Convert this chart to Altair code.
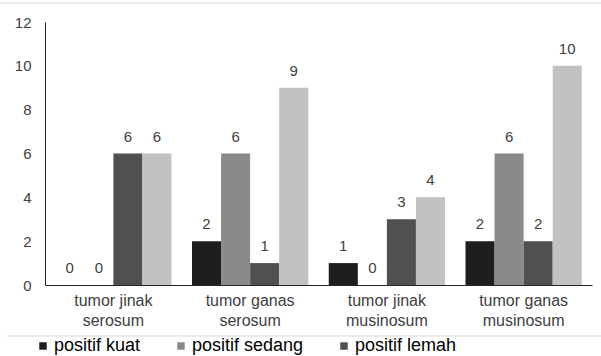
import altair as alt
import pandas as pd

# Categories and the four response groups
categories = [
    "tumor jinak serosum",
    "tumor ganas serosum",
    "tumor jinak musinosum",
    "tumor ganas musinosum",
]
series = ["positif kuat", "positif sedang", "positif lemah", "negatif"]

kuat = [0, 2, 1, 2]
sedang = [0, 6, 0, 6]
lemah = [6, 1, 3, 2]
negatif = [6, 9, 4, 10]

colors = ["#1e1e1e", "#8a8a8a", "#505050", "#c2c2c2"]

rows = []
for i, cat in enumerate(categories):
    for name, vals in zip(series, [kuat, sedang, lemah, negatif]):
        rows.append({"kategori": cat, "kelompok": name, "jumlah": vals[i]})
df = pd.DataFrame(rows)

FONT = "Liberation Sans"

x_enc = alt.X(
    "kategori:N",
    sort=categories,
    scale=alt.Scale(paddingInner=0.15, paddingOuter=0.075),
    axis=alt.Axis(
        title=None,
        labelAngle=0,
        labelExpr="[join(slice(split(datum.label, ' '), 0, 2), ' '), split(datum.label, ' ')[2]]",
        ticks=False,
        domainColor="#262626",
        domainWidth=1,
        labelFont=FONT,
        labelFontSize=16,
        labelColor="#404040",
        labelPadding=7,
        labelLineHeight=20,
    ),
)
xo_enc = alt.XOffset(
    "kelompok:N", sort=series, scale=alt.Scale(paddingInner=0, paddingOuter=0)
)
y_enc = alt.Y(
    "jumlah:Q",
    scale=alt.Scale(domain=[0, 12], nice=False),
    axis=alt.Axis(
        title=None,
        values=[0, 2, 4, 6, 8, 10, 12],
        grid=False,
        ticks=False,
        domainColor="#262626",
        labelFont=FONT,
        labelFontSize=15,
        labelColor="#404040",
        labelPadding=14,
    ),
)

base = alt.Chart(df).encode(x=x_enc, xOffset=xo_enc, y=y_enc)

bars = base.mark_bar().encode(
    color=alt.Color(
        "kelompok:N",
        sort=series,
        scale=alt.Scale(domain=series, range=colors),
        legend=alt.Legend(
            title=None,
            values=series[:3],
            orient="none",
            direction="horizontal",
            legendX=-11,
            legendY=315,
            symbolType="square",
            symbolSize=56,
            symbolStrokeWidth=0,
            labelFont=FONT,
            labelFontSize=18,
            labelColor="#000000",
            labelOffset=2,
            columnPadding=31,
        ),
    )
)

labels = base.mark_text(
    baseline="alphabetic", dy=-12, font=FONT, fontSize=15, color="#404040"
).encode(text="jumlah:Q")

# Light frame lines above the plot and between axis labels and legend
frame = pd.DataFrame({"garis": [0]})
top_line = alt.Chart(frame).mark_rule(color="#d9d9d9", strokeWidth=1).encode(
    x=alt.value(-45), x2=alt.value(556), y=alt.value(-19)
)
bottom_line = alt.Chart(frame).mark_rule(color="#d9d9d9", strokeWidth=1).encode(
    x=alt.value(-38), x2=alt.value(556), y=alt.value(314)
)

chart = (
    alt.layer(bars, labels, top_line, bottom_line)
    .properties(
        width=547,
        height=263,
        autosize=alt.AutoSizeParams(type="none"),
        padding={"left": 45, "top": 22, "right": 9, "bottom": 71},
    )
    .configure_view(stroke=None)
)

chart.save("out.html", embed_options={"renderer": "svg", "actions": False})
